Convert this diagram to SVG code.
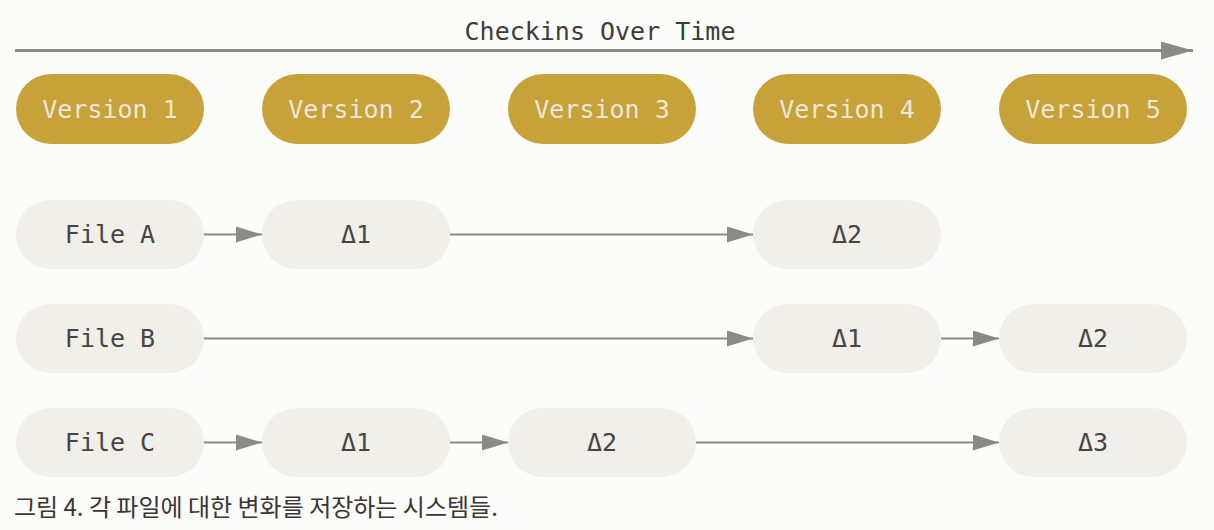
<svg xmlns="http://www.w3.org/2000/svg" width="1214" height="530" viewBox="0 0 1214 530">
<defs>
<style>
.ver rect{fill:#c6a238}
.ver text{fill:#ece8dc}
.file rect{fill:#f0efe9}
.file text{fill:#48443f}
text.lbl{font-family:"DejaVu Sans Mono",monospace;font-size:25px;text-anchor:middle;dominant-baseline:central}
.conn line{stroke:#8e8a83;stroke-width:2;fill:none}
</style>
<marker id="ah" markerUnits="userSpaceOnUse" markerWidth="26" markerHeight="16" refX="26" refY="8" orient="auto">
<path d="M0,0 L26,8 L0,16 Z" fill="#8e8a83"/>
</marker>
<marker id="ahBig" markerUnits="userSpaceOnUse" markerWidth="32" markerHeight="18" refX="32" refY="9" orient="auto">
<path d="M0,0 L32,9 L0,18 Z" fill="#8e8a83"/>
</marker>
</defs>
<rect width="1214" height="530" fill="#fcfcfa"/>
<g id="timeline">
<text x="600" y="31" class="lbl" fill="#3f3b37">Checkins Over Time</text>
<line x1="15" y1="50.5" x2="1193" y2="50.5" stroke="#8e8a83" stroke-width="3" marker-end="url(#ahBig)"/>
</g>
<g id="v1" class="ver"><rect x="16" y="74" width="188" height="70" rx="35"/><text x="110" y="109" class="lbl">Version 1</text></g>
<g id="v2" class="ver"><rect x="262" y="74" width="188" height="70" rx="35"/><text x="356" y="109" class="lbl">Version 2</text></g>
<g id="v3" class="ver"><rect x="508" y="74" width="188" height="70" rx="35"/><text x="602" y="109" class="lbl">Version 3</text></g>
<g id="v4" class="ver"><rect x="753" y="74" width="188" height="70" rx="35"/><text x="847" y="109" class="lbl">Version 4</text></g>
<g id="v5" class="ver"><rect x="999" y="74" width="188" height="70" rx="35"/><text x="1093" y="109" class="lbl">Version 5</text></g>

<g id="fileA" class="file"><rect x="16" y="200" width="188" height="69" rx="34.5"/><text x="110" y="234.5" class="lbl">File A</text></g>
<g id="a1" class="file"><rect x="262" y="200" width="188" height="69" rx="34.5"/><text x="356" y="234.5" class="lbl">Δ1</text></g>
<g id="a2" class="file"><rect x="753" y="200" width="188" height="69" rx="34.5"/><text x="847" y="234.5" class="lbl">Δ2</text></g>

<g id="fileB" class="file"><rect x="16" y="304" width="188" height="69" rx="34.5"/><text x="110" y="338.5" class="lbl">File B</text></g>
<g id="b1" class="file"><rect x="753" y="304" width="188" height="69" rx="34.5"/><text x="847" y="338.5" class="lbl">Δ1</text></g>
<g id="b2" class="file"><rect x="999" y="304" width="188" height="69" rx="34.5"/><text x="1093" y="338.5" class="lbl">Δ2</text></g>

<g id="fileC" class="file"><rect x="16" y="408" width="188" height="69" rx="34.5"/><text x="110" y="442.5" class="lbl">File C</text></g>
<g id="c1" class="file"><rect x="262" y="408" width="188" height="69" rx="34.5"/><text x="356" y="442.5" class="lbl">Δ1</text></g>
<g id="c2" class="file"><rect x="508" y="408" width="188" height="69" rx="34.5"/><text x="602" y="442.5" class="lbl">Δ2</text></g>
<g id="c3" class="file"><rect x="999" y="408" width="188" height="69" rx="34.5"/><text x="1093" y="442.5" class="lbl">Δ3</text></g>

<g id="connectors" class="conn">
<line x1="204" y1="234.5" x2="262" y2="234.5" marker-end="url(#ah)"/>
<line x1="450" y1="234.5" x2="753" y2="234.5" marker-end="url(#ah)"/>
<line x1="204" y1="338.5" x2="753" y2="338.5" marker-end="url(#ah)"/>
<line x1="941" y1="338.5" x2="999" y2="338.5" marker-end="url(#ah)"/>
<line x1="204" y1="442.5" x2="262" y2="442.5" marker-end="url(#ah)"/>
<line x1="450" y1="442.5" x2="508" y2="442.5" marker-end="url(#ah)"/>
<line x1="696" y1="442.5" x2="999" y2="442.5" marker-end="url(#ah)"/>
</g>
<text x="14" y="516" font-family="'Noto Sans CJK KR','Noto Sans',sans-serif" font-size="24" font-weight="400" fill="#3a3632">그림 4. 각 파일에 대한 변화를 저장하는 시스템들.</text>
</svg>
